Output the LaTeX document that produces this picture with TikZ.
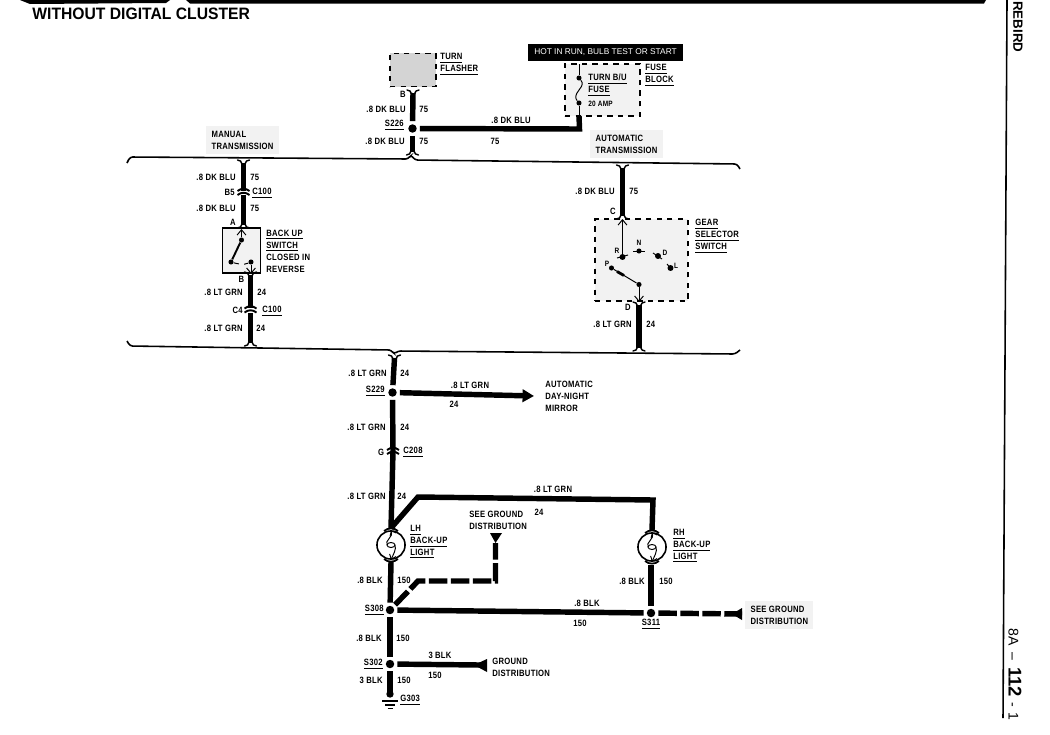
\documentclass[tikz,border=0pt]{standalone}
\usepackage{fontspec}
\usepackage{tikz}
\usetikzlibrary{arrows.meta}
\newfontfamily\lblfont[FakeStretch=0.84,LetterSpace=3]{Liberation Sans}
\newfontfamily\capfont{Liberation Sans}
\newfontfamily\titlefont[FakeStretch=0.95]{Liberation Sans}

\tikzset{
	wire/.style={line width=3.1pt},
	thinwire/.style={line width=.55pt},
	dashwire/.style={line width=3.1pt,dash pattern=on 10.5pt off 2pt},
	splice/.style={circle,fill=black,inner sep=0pt,minimum size=4.8pt},
	pin/.style={circle,fill=black,inner sep=0pt,minimum size=2.9pt},
	boundary/.style={line width=.9pt,rounded corners=1.5pt},
	lbl/.style={inner sep=0pt,font=\lblfont\bfseries\fontsize{5.2}{6.8}\selectfont,align=left},
	lblw/.style={lbl,anchor=west},
	lble/.style={lbl,anchor=east},
	lblc/.style={lbl,anchor=center},
	tiny/.style={font=\lblfont\bfseries\fontsize{4.4}{5}\selectfont},
	graybox/.style={fill=black!5,inner xsep=3pt,inner ysep=2.5pt},
	tail/.pic={\draw[line width=.8pt,line cap=round] (-6,-3) .. controls (-3,-3.5) and (-2.5,-1) .. (-1.5,1);
		\draw[line width=.8pt,line cap=round] (6,-3) .. controls (3,-3.5) and (2.5,-1) .. (1.5,1);},
	conn/.pic={\draw[line width=1.1pt] (-6,-1.5) .. controls (-2,-4.5) and (2,-4.5) .. (6,-1.5);
		\draw[line width=1.1pt] (-6,2.5) .. controls (-2,-.5) and (2,-.5) .. (6,2.5);},
	lampcap/.pic={\draw[line width=1pt] (-7,2) .. controls (-3,-1.5) and (3,-1.5) .. (7,2);},
	triangle/.style={fill=black,draw=none}
}

\begin{document}
\begin{tikzpicture}[x=0.02cm,y=-0.02cm]
\useasboundingbox (0,0) rectangle (1050,734);

% page edge
\fill (20,0) -- (170,0) -- (166,3) -- (30,4) -- cycle;
\fill (186,0) -- (986,0) -- (984,3.5) -- (190,3.5) -- cycle;
\draw[line width=.9pt] (1007,0) -- (1003,718);
\node[inner sep=0pt,anchor=west,font=\titlefont\bfseries\fontsize{9.4}{11}\selectfont] (title) at (32,14) {WITHOUT DIGITAL CLUSTER};
\node[inner sep=0pt,rotate=-90,anchor=west,font=\capfont\bfseries\fontsize{7.6}{8}\selectfont] (model) at (1018,1) {REBIRD};
\node[inner sep=0pt,rotate=-90,anchor=west,font=\capfont\fontsize{8}{9}\selectfont] (page) at (1015,628) {8A\hspace{4pt}–\hspace{4pt}\textbf{\fontsize{10.5}{11}\selectfont 112}\hspace{3pt}-\hspace{3pt}1};

% section boundaries
\draw[boundary] (127,163) -- (130,157) -- (408,159) -- (411,155) -- (415,160) -- (737,164) -- (740,169);
\draw[boundary] (127,341) -- (130,346) -- (391,350) -- (394,354) -- (398,351) -- (735,354) -- (740,350);
\node[lblw,graybox] (manual) at (206,140) {MANUAL\\TRANSMISSION};
\node[lblw,graybox] (auto) at (590,144) {AUTOMATIC\\TRANSMISSION};

% turn flasher
\node[draw,dashed,line width=.9pt,fill=black!17,minimum width=26pt,minimum height=19pt,inner sep=0pt] (flasher) at (413,70) {};
\node[lblw] (flasherlbl) at (440,64) {\underline{TURN}\\\underline{FLASHER}};
\node[lblc] (pinb) at (403,94) {B};

% fuse block
\node[fill=black,minimum width=88pt,minimum height=9.6pt,inner sep=0pt,text=white,font=\capfont\fontsize{4.75}{6}\selectfont] (hot) at (605.5,52.5) {HOT IN RUN, BULB TEST OR START};
\node[draw,dashed,line width=.9pt,fill=black!5,minimum width=42.5pt,minimum height=29.5pt,inner sep=0pt] (fuseblock) at (602.5,90) {};
\node[pin] (fusea) at (579,78) {};
\node[pin] (fuseb) at (579,103) {};
\coordinate (fusetop) at (579,64);
\coordinate (fusebot) at (579,116);
\draw[thinwire] (fusetop) -- (fusea);
\draw[thinwire] (fuseb) -- (fusebot);
\draw[thinwire] (fusea) .. controls (583,83) and (583,85) .. (579,90) .. controls (575,95) and (575,98) .. (fuseb);
\node[lblw] (fuselbl) at (588,85) {\underline{TURN B/U}\\\underline{FUSE}};
\node[lblw,tiny] (amp) at (588,104) {20 AMP};
\node[lblw] (blocklbl) at (645,75) {\underline{FUSE}\\\underline{BLOCK}};

% top feed
\node[splice] (s226) at (412.5,128.5) {};
\coordinate (flasherend) at (413,93);
\coordinate (feedend) at (412.5,152);
\coordinate (fusecorner) at (579.5,129);
\draw[wire,shorten >=1.6pt] (flasherend) -- (s226);
\draw[wire,shorten <=1.6pt] (s226) -- (feedend);
\draw[wire,shorten <=1.6pt] (s226) -- (fusecorner) -- (fusebot);
\pic at (flasherend) {tail};
\pic[yscale=-1] at (feedend) {tail};
\node[lble] (a1) at (406,109) {.8 DK BLU};
\node[lblw] (a2) at (419,109) {75};
\node[lble] (a3) at (404,125) {\underline{S226}};
\node[lble] (a4) at (405,141) {.8 DK BLU};
\node[lblw] (a5) at (419,141) {75};
\node[lblc] (a6) at (511,120) {.8 DK BLU};
\node[lblc] (a7) at (495,141) {75};

% manual side
\coordinate (mtop) at (243.5,163);
\coordinate (mconna) at (243.5,192.5);
\coordinate (mswa) at (243.5,225);
\draw[wire] (mtop) -- (mconna) -- (mswa);
\fill[white] (236,190.5) rectangle (251,195);
\pic at (mtop) {tail};
\pic at (mconna) {conn};
\pic[yscale=-1] at (mswa) {tail};
\node[lble] (b1) at (236,177) {.8 DK BLU};
\node[lblw] (b2) at (250,177) {75};
\node[lble] (b3) at (235,192) {B5};
\node[lblw] (b4) at (252,193) {\underline{C100}};
\node[lble] (b5) at (236,208) {.8 DK BLU};
\node[lblw] (b6) at (250,208) {75};
\node[lblc] (b7) at (233,222) {A};

% back up switch
\node[draw,line width=.9pt,fill=black!5,minimum width=21.8pt,minimum height=25.5pt,inner sep=0pt] (backup) at (241.5,250.5) {};
\node[pin] (swa) at (241.5,240) {};
\node[pin] (swb) at (231,262) {};
\node[pin] (swc) at (251,262) {};
\coordinate (swtop) at (241.5,229);
\coordinate (swbot) at (251,274);
\draw[thinwire,-{Straight Barb[length=3pt,width=5pt]}] (swa) -- (swtop);
\draw[line width=1.1pt] (swa) -- (swb);
\draw[thinwire,dashed] (swb) .. controls (238,264) and (244,265) .. (swc);
\draw[thinwire,-{Straight Barb[length=3pt,width=5pt]}] (swc) -- (swbot);
\node[lblw] (backuplbl) at (266,251) {\underline{BACK UP}\\\underline{SWITCH}\\CLOSED IN\\REVERSE};

\coordinate (mbot) at (250.5,275);
\coordinate (mconnb) at (250.5,310);
\coordinate (mend) at (250.5,343);
\draw[wire] (mbot) -- (mconnb) -- (mend);
\fill[white] (243,308) rectangle (258,312.5);
\pic at (mbot) {tail};
\pic at (mconnb) {conn};
\pic[yscale=-1] at (mend) {tail};
\node[lblc] (c1) at (241.5,279) {B};
\node[lble] (c2) at (243,292) {.8 LT GRN};
\node[lblw] (c3) at (257,292) {24};
\node[lble] (c4) at (243,310) {C4};
\node[lblw] (c5) at (262,311) {\underline{C100}};
\node[lble] (c6) at (243,328) {.8 LT GRN};
\node[lblw] (c7) at (256,328) {24};

% automatic side
\coordinate (atop) at (622.5,168);
\coordinate (abot) at (622.5,216);
\draw[wire] (atop) -- (abot);
\pic at (atop) {tail};
\pic[yscale=-1] at (abot) {tail};
\node[lble] (d1) at (615,191) {.8 DK BLU};
\node[lblw] (d2) at (629,191) {75};
\node[lblc] (d3) at (613,211) {C};

% gear selector switch
\node[draw,dashed,line width=.9pt,fill=black!5,minimum width=52.7pt,minimum height=46.5pt,inner sep=0pt] (gear) at (641.5,260) {};
\node[lblw] (gearlbl) at (695,236) {\underline{GEAR}\\\underline{SELECTOR}\\\underline{SWITCH}};
\node[pin,minimum size=3.4pt] (gr) at (622.5,257) {};
\node[pin] (gn) at (639,251) {};
\node[pin,minimum size=3.4pt] (gd) at (658,256) {};
\node[pin,minimum size=3.4pt] (gl) at (670.5,268) {};
\node[pin] (gp) at (611.5,268) {};
\node[pin] (gc) at (639,284.5) {};
\coordinate (gtop) at (622.5,219);
\coordinate (gbot) at (639,302);
\draw[thinwire,-{Straight Barb[length=3pt,width=5pt]}] (gr) -- (gtop);
\draw[thinwire] (gp) -- (gc);
\draw[line width=1.6pt] (617,271.5) -- (624,275.5);
\draw[thinwire,-{Straight Barb[length=3pt,width=5pt]}] (gc) -- (gbot);
\draw[thinwire] (633,251) -- (645,251);
\draw[thinwire] (653,253) -- (662,259);
\draw[thinwire] (667,264) -- (672,270);
\draw[thinwire] (617,258) -- (628,255);
\node[lblc,tiny] (gr1) at (617,251) {R};
\node[lblc,tiny] (gn1) at (639,243) {N};
\node[lblc,tiny] (gd1) at (665,253) {D};
\node[lblc,tiny] (gl1) at (676,266) {L};
\node[lblc,tiny] (gp1) at (607,264) {P};

\coordinate (atop2) at (639,305);
\coordinate (abot2) at (639,348);
\draw[wire] (atop2) -- (abot2);
\pic at (atop2) {tail};
\pic[yscale=-1] at (abot2) {tail};
\node[lblc] (e1) at (628,307) {D};
\node[lble] (e2) at (632,324) {.8 LT GRN};
\node[lblw] (e3) at (646,324) {24};

% lower harness
\node[splice] (s229) at (392.5,392.5) {};
\coordinate (ltop) at (394.5,358);
\coordinate (lconn) at (393,451.5);
\coordinate (mirror) at (534,396);
\draw[wire,shorten >=1.6pt] (ltop) -- (s229);
\draw[wire,shorten <=1.6pt] (s229) -- (lconn);
\draw[wire,shorten <=1.6pt,-{Triangle[length=6.5pt,width=7pt]}] (s229) -- (mirror);
\pic at (ltop) {tail};
\node[lble] (f1) at (387,373) {.8 LT GRN};
\node[lblw] (f2) at (400,373) {24};
\node[lble] (f3) at (385,391) {\underline{S229}};
\node[lblc] (f4) at (470,385) {.8 LT GRN};
\node[lblc] (f5) at (454,404) {24};
\node[lblw] (mirrorlbl) at (545,396) {AUTOMATIC\\DAY-NIGHT\\MIRROR};
\node[lble] (f6) at (386,427) {.8 LT GRN};
\node[lblw] (f7) at (400,427) {24};
\node[lblc] (f8) at (381,452) {G};
\node[lblw] (f9) at (403,452) {\underline{C208}};
\node[lble] (f10) at (386,496) {.8 LT GRN};
\node[lblw] (f11) at (397,496) {24};

% back-up lights
\node[draw,circle,line width=.9pt,minimum size=16pt,inner sep=0pt] (lhlight) at (391,545) {};
\node[draw,circle,line width=.9pt,minimum size=16pt,inner sep=0pt] (rhlight) at (652,547) {};
\coordinate (lhin) at (391,528);
\coordinate (lhbend) at (418,497);
\coordinate (rhbend) at (653,500);
\coordinate (rhin) at (652,530);
\draw[wire] (lconn) -- (lhin);
\draw[wire] (lhin) -- (lhbend) -- (rhbend) -- (rhin);
\pic at (lconn) {conn};
\pic at (391,529) {lampcap};
\pic at (652,531) {lampcap};
\pic[yscale=-1] at (391,561) {lampcap};
\pic[yscale=-1] at (652,563) {lampcap};
\foreach \lamp in {lhlight,rhlight}{
	\draw[thinwire] (\lamp.center) ellipse [x radius=4,y radius=2.5];
	\draw[thinwire,{Straight Barb[length=2.4pt,width=4pt]}-] (\lamp.north) .. controls +(3,6) and +(-3,-4) .. ([xshift=-2.2pt]\lamp.center);
	\draw[thinwire,-{Straight Barb[length=2.4pt,width=4pt]}] ([xshift=2.2pt]\lamp.center) .. controls +(2,4) and +(2,-5) .. (\lamp.south);
}
\node[lblw] (lhlbl) at (410,542) {\underline{LH}\\\underline{BACK-UP}\\\underline{LIGHT}};
\node[lblw] (rhlbl) at (673,546) {\underline{RH}\\\underline{BACK-UP}\\\underline{LIGHT}};
\node[lblc] (g1) at (553,489) {.8 LT GRN};
\node[lblc] (g2) at (539,512) {24};
\node[lblw] (seelbl) at (469,520) {SEE GROUND\\DISTRIBUTION};

% ground side
\node[splice] (s308) at (390,610) {};
\node[splice] (s311) at (651,613) {};
\node[splice] (s302) at (390,664) {};
\coordinate (lhout) at (391,562);
\coordinate (rhout) at (651,565);
\coordinate (dashbend) at (418,581);
\coordinate (dashcorner) at (495.5,581);
\coordinate (dashtip) at (495.5,543);
\coordinate (seetip) at (732,614);
\coordinate (gndtip) at (474,665);
\coordinate (g303) at (390,694);
\draw[wire,shorten >=1.6pt] (lhout) -- (s308);
\draw[wire,shorten >=1.6pt] (rhout) -- (s311);
\draw[wire,shorten <=1.6pt,shorten >=1.6pt] (s308) -- (s311);
\draw[wire,shorten <=1.6pt,shorten >=1.6pt] (s308) -- (s302);
\draw[wire,shorten <=1.6pt] (s302) -- (g303);
\draw[dashwire,shorten <=1.6pt] (s308) -- (dashbend) -- (dashcorner) -- (dashtip);
\draw[dashwire,shorten <=1.6pt] (s311) -- (742,614);
\draw[wire,shorten <=1.6pt] (s302) -- (480,665);
\fill[triangle] (dashtip) -- (490,533) -- (502,533) -- cycle;
\fill[triangle] (seetip) -- (742,608) -- (742,620) -- cycle;
\fill[triangle] (gndtip) -- (487,659) -- (487,672) -- cycle;
\node[pin,minimum size=4.2pt] (gnddot) at (g303) {};
\draw[line width=.8pt] (382,701) -- (398,701);
\draw[line width=.8pt] (385,705) -- (395,705);
\draw[line width=.8pt] (387.5,708.5) -- (392.5,708.5);

\node[lble] (h1) at (383,580) {.8 BLK};
\node[lblw] (h2) at (397,580) {150};
\node[lble] (h3) at (645,581) {.8 BLK};
\node[lblw] (h4) at (659,581) {150};
\node[lble] (h5) at (384,610) {\underline{S308}};
\node[lblc] (h6) at (587,603) {.8 BLK};
\node[lblc] (h7) at (580,623) {150};
\node[lblc] (h8) at (651,624) {\underline{S311}};
\node[lblw,graybox] (seelbl2) at (745,615) {SEE GROUND\\DISTRIBUTION};
\node[lble] (h9) at (382,638) {.8 BLK};
\node[lblw] (h10) at (396,638) {150};
\node[lble] (h11) at (383,664) {\underline{S302}};
\node[lblc] (h12) at (440,655) {3 BLK};
\node[lblc] (h13) at (435,675) {150};
\node[lblw] (gndlbl) at (492,667) {GROUND\\DISTRIBUTION};
\node[lble] (h14) at (383,680) {3 BLK};
\node[lblw] (h15) at (397,680) {150};
\node[lblw] (h16) at (400,700) {\underline{G303}};
\end{tikzpicture}
\end{document}
